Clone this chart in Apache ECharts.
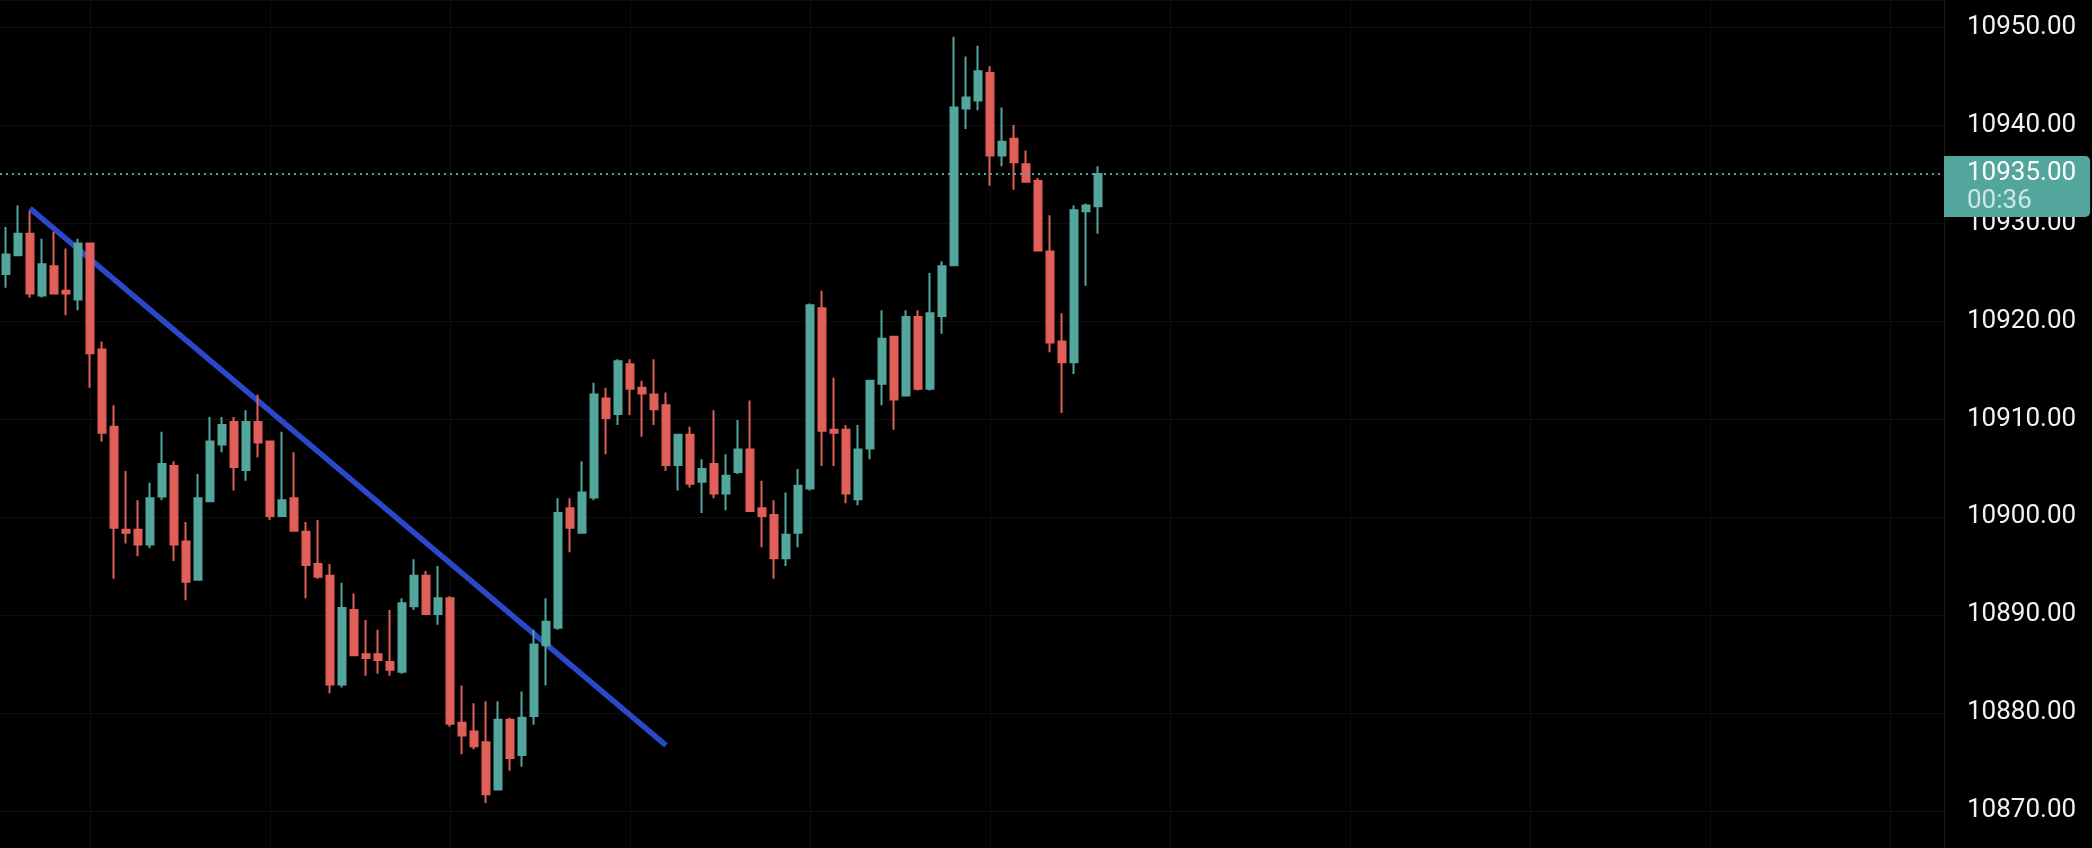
<!DOCTYPE html>
<html>
<head>
<meta charset="utf-8">
<script src="https://cdn.jsdelivr.net/npm/echarts@6/dist/echarts.min.js"></script>
<style>
html,body{margin:0;padding:0;background:#000;}
#chart{width:2092px;height:848px;}
</style>
</head>
<body>
<div id="chart"></div>
<script>
// Candle values: [open, close, low, high]
const opens  = [10924.8,10926.7,10928.9,10922.6,10925.6,10923.1,10922.2,10927.9,10917.1,10909.2,
                10898.7,10898.7,10897.2,10902.1,10905.2,10897.5,10893.6,10901.6,10907.4,10909.7,
                10904.8,10909.7,10907.7,10900.1,10901.9,10898.5,10895.2,10894.0,10882.9,10890.5,
                10886.0,10886.0,10885.2,10884.2,10890.9,10894.0,10890.1,10891.7,10879.0,10878.1,
                10877.0,10872.2,10879.3,10875.7,10879.7,10886.9,10888.7,10900.9,10898.4,10902.0,
                10912.1,10910.5,10915.6,10913.2,10912.5,10911.4,10905.3,10908.4,10903.6,10905.4,
                10902.4,10904.6,10906.9,10900.9,10900.2,10895.8,10898.4,10902.9,10921.3,10908.9,
                10908.9,10901.8,10907.0,10913.6,10918.4,10912.4,10920.4,10913.1,10920.5,10925.7,
                10941.7,10942.5,10945.3,10936.9,10938.6,10936.0,10934.3,10927.1,10917.9,10915.8,
                10931.2,10931.7];
const closes = [10926.8,10928.9,10922.8,10925.8,10922.8,10922.8,10927.9,10916.7,10908.6,10898.9,
                10898.4,10897.2,10901.9,10905.4,10897.2,10893.4,10901.9,10907.7,10909.4,10905.1,
                10909.7,10907.6,10900.1,10901.7,10898.6,10895.1,10893.9,10882.9,10890.7,10885.9,
                10885.6,10885.4,10884.4,10891.2,10894.0,10890.1,10891.7,10878.9,10877.7,10876.6,
                10871.7,10879.3,10875.4,10879.5,10887.0,10889.3,10900.4,10898.9,10902.5,10912.5,
                10910.1,10915.9,10913.1,10912.6,10911.0,10905.3,10908.4,10903.4,10904.9,10902.4,
                10904.2,10906.9,10900.6,10900.1,10895.8,10898.2,10903.2,10921.6,10908.8,10908.6,
                10902.4,10906.9,10913.9,10918.2,10912.0,10920.4,10913.1,10920.8,10925.6,10941.8,
                10942.8,10945.5,10936.9,10938.3,10936.2,10934.2,10927.2,10917.8,10915.8,10931.3,
                10931.8,10935.0];
const lows   = [10923.4,10926.6,10922.4,10922.4,10922.8,10920.6,10921.1,10913.2,10907.7,10893.7,
                10897.3,10896.0,10896.8,10901.7,10895.5,10891.5,10893.6,10901.6,10906.6,10902.7,
                10903.7,10906.1,10899.7,10900.1,10898.5,10891.7,10893.7,10882.0,10882.6,10885.9,
                10883.8,10884.0,10883.8,10884.0,10890.5,10890.0,10889.0,10878.6,10875.8,10876.3,
                10870.8,10872.2,10874.1,10874.5,10878.8,10882.8,10888.5,10896.4,10898.4,10901.7,
                10906.4,10909.4,10910.4,10908.2,10909.4,10904.7,10902.7,10903.0,10900.4,10901.9,
                10900.7,10904.4,10900.6,10896.9,10893.7,10895.0,10896.9,10902.7,10905.2,10905.2,
                10901.4,10901.2,10905.9,10911.4,10908.9,10912.4,10912.9,10912.9,10918.7,10925.7,
                10939.6,10941.5,10933.8,10935.8,10933.4,10934.1,10927.1,10916.8,10910.6,10914.6,
                10923.6,10928.9];
const highs  = [10929.6,10931.8,10931.2,10928.4,10929.1,10927.4,10928.4,10927.9,10917.9,10911.4,
                10904.7,10901.7,10903.5,10908.7,10905.7,10899.5,10904.4,10910.2,10910.2,10910.2,
                10910.9,10912.5,10907.7,10908.7,10906.6,10899.5,10899.7,10895.2,10893.3,10892.2,
                10889.5,10888.5,10890.5,10891.7,10895.7,10894.5,10895.0,10891.9,10882.8,10881.0,
                10881.2,10881.2,10879.5,10882.2,10888.5,10891.7,10901.9,10901.9,10905.7,10913.7,
                10913.2,10916.1,10916.1,10913.9,10916.1,10912.7,10908.4,10909.2,10905.9,10910.9,
                10906.4,10909.9,10911.9,10903.7,10901.7,10902.5,10904.9,10921.8,10923.1,10914.2,
                10909.4,10909.4,10913.9,10921.1,10918.4,10921.1,10921.1,10924.9,10926.1,10949.0,
                10947.0,10948.1,10946.0,10941.8,10940.0,10937.4,10934.6,10930.8,10920.8,10931.8,
                10932.0,10935.8];

// bar slots on the time axis (92 candles + empty space to the right)
const slotCount = 162;
const categories = Array.from({length: slotCount}, (_, i) => String(i));

// hand-drawn trend line: [slot index, price]
const trendLine = [[2, 10931.5], [55, 10876.7]];

// last price marker
const lastPrice = 10935.00;
const countdown = '00:36';

// visible price range (chart edges) — ticks fall every 10 points: 10870 ... 10950
const priceBottom = 10866.22, priceTop = 10952.76;

const UP = '#53a69b', DOWN = '#e15f59';

const candles = opens.map((o, i) => [o, closes[i], lows[i], highs[i]]);

const chart = echarts.init(document.getElementById('chart'), null, {renderer: 'canvas'});
chart.setOption({
  backgroundColor: '#000000',
  animation: false,
  grid: {left: -2, right: 148, top: 0, bottom: 0, containLabel: false},
  xAxis: {
    type: 'category',
    data: categories,
    boundaryGap: true,
    axisLine: {show: false},
    axisTick: {show: false},
    axisLabel: {show: false},
    splitLine: {
      show: true,
      alignWithLabel: true,
      interval: function (idx) { return idx % 15 === 7; },
      lineStyle: {color: '#0f0f0f', width: 1}
    }
  },
  yAxis: {
    type: 'value',
    position: 'right',
    min: priceBottom,
    max: priceTop,
    splitNumber: 8,
    axisLine: {show: true, lineStyle: {color: '#1a1a1a', width: 1}},
    axisTick: {show: false},
    axisLabel: {
      show: true,
      margin: 23,
      align: 'left',
      showMinLabel: false,
      showMaxLabel: false,
      color: '#f2f2f2',
      fontFamily: 'Roboto',
      fontSize: 26,
      formatter: function (v) { return v.toFixed(2); }
    },
    splitLine: {show: true, lineStyle: {color: '#0f0f0f', width: 1}}
  },
  series: [
    {
      type: 'line',
      data: trendLine,
      z: 1,
      symbol: 'none',
      silent: true,
      lineStyle: {color: '#2a48c9', width: 5.5, cap: 'butt'}
    },
    {
      type: 'candlestick',
      data: candles,
      z: 3,
      barWidth: 8,
      silent: true,
      itemStyle: {
        color: UP, color0: DOWN,
        borderColor: UP, borderColor0: DOWN,
        borderWidth: 2
      },
      markLine: {
        silent: true,
        symbol: ['none', 'none'],
        animation: false,
        lineStyle: {color: UP, type: [2, 4], width: 2},
        label: {
          show: true,
          position: 'end',
          distance: 0,
          offset: [0, 12.5],
          backgroundColor: UP,
          borderRadius: [0, 5, 5, 0],
          padding: [3, 14, 2, 23],
          formatter: function () { return '{p|' + lastPrice.toFixed(2) + '}\n{t|' + countdown + '}'; },
          rich: {
            p: {color: '#ffffff', fontFamily: 'Roboto', fontSize: 26, lineHeight: 28},
            t: {color: '#cde8e3', fontFamily: 'Roboto', fontSize: 26, lineHeight: 28}
          }
        },
        data: [{yAxis: lastPrice}]
      }
    }
  ]
});
</script>
</body>
</html>
